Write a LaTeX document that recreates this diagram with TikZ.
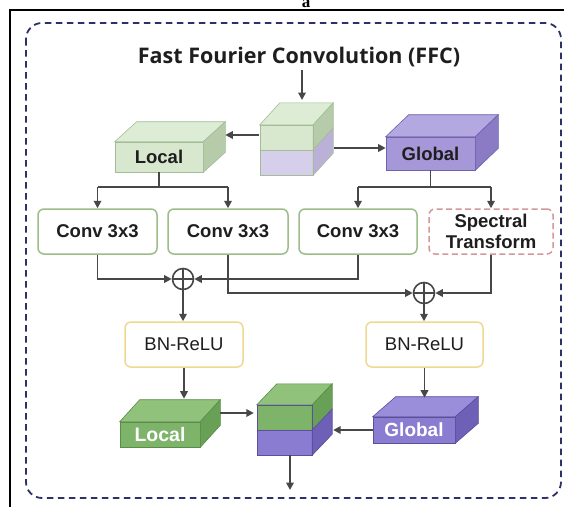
\documentclass[tikz,border=0pt]{standalone}
\usepackage{fontspec}
\setmainfont{Liberation Sans}
\newfontfamily\titlefont{Open Sans}
\newfontfamily\labelserif{Liberation Serif}
\usetikzlibrary{arrows.meta,calc}

\definecolor{linec}{HTML}{474747}
\definecolor{txtc}{HTML}{1E1E1E}
\definecolor{framec}{HTML}{2D3168}
\definecolor{convg}{HTML}{9CBD87}
\definecolor{specr}{HTML}{D4979C}
\definecolor{bny}{HTML}{EFD98F}
% light local / input
\definecolor{lGf}{HTML}{D8E8CF}
\definecolor{lGt}{HTML}{DDEDD5}
\definecolor{lGs}{HTML}{B5CBA9}
\definecolor{lE}{HTML}{A3BC97}
\definecolor{inPf}{HTML}{D6CFEC}
\definecolor{inPs}{HTML}{BBB1D8}
% light global
\definecolor{gGf}{HTML}{A697D8}
\definecolor{gGt}{HTML}{B4A8E1}
\definecolor{gGs}{HTML}{8A7BC4}
\definecolor{gE}{HTML}{6F62AE}
% dark local
\definecolor{dLf}{HTML}{7DB469}
\definecolor{dLt}{HTML}{90C27C}
\definecolor{dLs}{HTML}{68A056}
\definecolor{dLe}{HTML}{5A8C4A}
% dark global
\definecolor{dPf}{HTML}{8A7CD0}
\definecolor{dPt}{HTML}{9A8EDB}
\definecolor{dPs}{HTML}{6E60B6}
\definecolor{dPe}{HTML}{5B4E9C}

\newcommand{\cubefaces}[6]{%
  \filldraw[fill=#4,draw=#6,line width=0.6pt] (#1.north west) -- ++(#2,-#3) -- ($(#1.north east)+(#2,-#3)$) -- (#1.north east) -- cycle;
  \filldraw[fill=#5,draw=#6,line width=0.6pt] (#1.north east) -- ++(#2,-#3) -- ($(#1.south east)+(#2,-#3)$) -- (#1.south east) -- cycle;}

\begin{document}
\begin{tikzpicture}[x=1pt,y=-1pt,
  conn/.style={draw=linec,line width=1.8pt},
  arr/.style={conn,-{Triangle[length=7.5pt,width=7.5pt]}},
  txtb/.style={font=\bfseries\fontsize{18.5}{21}\selectfont,text=txtc},
  procbox/.style={rounded corners=6pt,line width=1.5pt,fill=white,minimum height=45pt,inner sep=0pt,align=center},
  convbox/.style={procbox,txtb,draw=convg,minimum width=119pt},
  specbox/.style={procbox,txtb,draw=specr,dash pattern=on 6pt off 3.5pt,minimum width=124pt},
  bnbox/.style={procbox,draw=bny,font=\fontsize{18.5}{21}\selectfont,text=txtc,minimum width=118pt},
  front/.style 2 args={minimum width=#1,minimum height=#2,inner sep=0pt},
  sumnode/.style={circle,draw=linec,line width=1.6pt,minimum size=21pt,inner sep=0pt,fill=white,
    path picture={\draw[linec,line width=1.4pt] (path picture bounding box.north) -- (path picture bounding box.south) (path picture bounding box.west) -- (path picture bounding box.east);}}
]
\clip (0,0) rectangle (564,506);
\fill[white] (0,0) rectangle (564,506);
\draw[black,line width=2pt] (9.5,520) -- (9.5,10) -- (580,10);
\node[anchor=base,font=\labelserif\bfseries\fontsize{17}{17}\selectfont] (lbl) at (306,7) {a};
\draw[framec,line width=1.8pt,dash pattern=on 6.5pt off 4.5pt,rounded corners=16pt] (26,23) rectangle (561,498);

\node[font=\titlefont\bfseries\fontsize{21.5}{24}\selectfont,text=txtc] (title) at (299,57) {Fast Fourier Convolution (FFC)};

% input cube
\node[front={53pt}{50pt}] (in) at (286.5,150) {};
\fill[lGf] (in.north west) rectangle (in.east);
\fill[inPf] (in.west) rectangle (in.south east);
\filldraw[fill=lGt,draw=lE,line width=0.6pt] (in.north west) -- ++(20,-22) -- ($(in.north east)+(20,-22)$) -- (in.north east) -- cycle;
\filldraw[fill=lGs,draw=lE,line width=0.6pt] (in.north east) -- ++(20,-22) -- ($(in.east)+(20,-22)$) -- (in.east) -- cycle;
\filldraw[fill=inPs,draw=lE,line width=0.6pt] (in.east) -- ++(20,-22) -- ($(in.south east)+(20,-22)$) -- (in.south east) -- cycle;
\draw[lE,line width=0.6pt] (in.north west) rectangle (in.south east) (in.west) -- (in.east);
\coordinate (intop) at (302,100);

% top local / global
\node[front={88pt}{30pt},fill=lGf,draw=lE,line width=0.6pt,txtb] (lin) at (159,157) {Local};
\cubefaces{lin}{22}{20}{lGt}{lGs}{lE}
\node[front={89pt}{33pt},fill=gGf,draw=gE,line width=0.6pt,txtb] (gin) at (430.5,153.5) {Global};
\cubefaces{gin}{23}{22}{gGt}{gGs}{gE}

% processing row
\node[convbox] (conv1) at (97.5,231.5) {Conv 3x3};
\node[convbox,minimum width=120pt] (conv2) at (228,231.5) {Conv 3x3};
\node[convbox,minimum width=118pt] (conv3) at (358,231.5) {Conv 3x3};
\node[specbox] (spec) at (491,231.5) {Spectral\\Transform};

\node[sumnode] (sum1) at (183,279) {};
\node[sumnode] (sum2) at (424,293) {};

\node[bnbox] (bn1) at (184,344.5) {BN-ReLU};
\node[bnbox,minimum width=117pt] (bn2) at (424.5,344.5) {BN-ReLU};

% bottom cubes
\node[front={80pt}{25pt},fill=dLf,draw=dLe,line width=0.6pt,font=\bfseries\fontsize{19.5}{21}\selectfont,text=white] (lout) at (160,434.5) {Local};
\cubefaces{lout}{20}{22}{dLt}{dLs}{dLe}
\node[front={82pt}{26pt},fill=dPf,draw=dPe,line width=0.6pt,font=\bfseries\fontsize{19}{21}\selectfont,text=white] (gout) at (414,430) {Global};
\cubefaces{gout}{23}{20}{dPt}{dPs}{dPe}

\node[front={55pt}{50pt}] (oc) at (284.5,430) {};
\fill[dLf] (oc.north west) rectangle (oc.east);
\fill[dPf] (oc.west) rectangle (oc.south east);
\filldraw[fill=dLt,draw=dLe,line width=0.6pt] (oc.north west) -- ++(20,-21) -- ($(oc.north east)+(20,-21)$) -- (oc.north east) -- cycle;
\filldraw[fill=dLs,draw=dLe,line width=0.6pt] (oc.north east) -- ++(20,-21) -- ($(oc.east)+(20,-21)$) -- (oc.east) -- cycle;
\filldraw[fill=dPs,draw=dPe,line width=0.6pt] (oc.east) -- ++(20,-21) -- ($(oc.south east)+(20,-21)$) -- (oc.south east) -- cycle;
\draw[dPe,line width=0.6pt] (oc.north west) rectangle (oc.south east) (oc.west) -- (oc.east);
\coordinate (outend) at (290,490);
\coordinate (ltop) at ($(lout.north)+(0,-23)$);
\coordinate (gtop) at ($(gout.north)+(0,-19)$);

% connectors
\draw[arr] (title.south -| intop) -- (intop);
\draw[arr] ($(in.west)+(-1,-15)$) -- ($(lin.east)+(22,-22)$);
\draw[arr] ($(in.east)+(21,-2)$) -- ($(gin.west)+(0,-5.5)$);

\draw[conn] (lin.south) -- (lin.south |- 0,187);
\draw[conn] (conv1.north |- 0,187) -- (conv2.north |- 0,187);
\draw[arr] (conv1.north |- 0,187) -- (conv1.north);
\draw[arr] (conv2.north |- 0,187) -- (conv2.north);

\draw[conn] (gin.south) -- (gin.south |- 0,187);
\draw[conn] (conv3.north |- 0,187) -- (spec.north |- 0,187);
\draw[arr] (conv3.north |- 0,187) -- (conv3.north);
\draw[arr] (spec.north |- 0,187) -- (spec.north);

\draw[arr] (conv1.south) |- (sum1.west);
\draw[arr] (conv3.south) |- (sum1.east);
\draw[arr] (conv2.south) |- (sum2.west);
\draw[arr] (spec.south) |- (sum2.east);

\draw[arr] (sum1.south) -- (sum1.south |- bn1.north);
\draw[arr] (sum2.south) -- (sum2.south |- bn2.north);

\draw[arr] (bn1.south) -- (bn1.south |- ltop);
\draw[arr] (bn2.south) -- (bn2.south |- gtop);

\draw[arr] ($(lout.east)+(20,-21.5)$) -- ($(oc.west)+(-3,-17)$);
\draw[arr] (gout.west) -- ($(oc.east)+(21,0)$);
\draw[arr] (outend |- oc.south) -- (outend);
\end{tikzpicture}
\end{document}
